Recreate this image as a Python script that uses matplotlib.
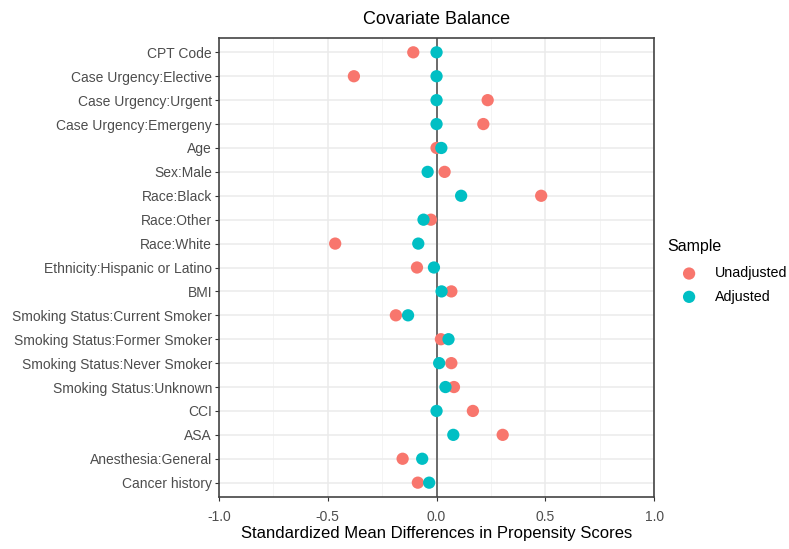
import numpy as np
import matplotlib.pyplot as plt

plt.rcParams['font.family'] = ['Liberation Sans', 'DejaVu Sans']

covariates = ['CPT Code', 'Case Urgency:Elective', 'Case Urgency:Urgent', 'Case Urgency:Emergeny',
              'Age', 'Sex:Male', 'Race:Black', 'Race:Other', 'Race:White',
              'Ethnicity:Hispanic or Latino', 'BMI', 'Smoking Status:Current Smoker',
              'Smoking Status:Former Smoker', 'Smoking Status:Never Smoker',
              'Smoking Status:Unknown', 'CCI', 'ASA', 'Anesthesia:General', 'Cancer history']
unadjusted = [-0.107, -0.38, 0.235, 0.215, 0.0, 0.037, 0.481, -0.026, -0.466,
              -0.09, 0.068, -0.187, 0.02, 0.068, 0.08, 0.167, 0.304, -0.156, -0.086]
adjusted = [0.0, 0.0, 0.0, 0.0, 0.022, -0.041, 0.113, -0.06, -0.084,
            -0.012, 0.023, -0.131, 0.055, 0.012, 0.041, 0.0, 0.077, -0.066, -0.034]
xticks = [-1.0, -0.5, 0.0, 0.5, 1.0]

red = '#F8766D'
teal = '#00BFC4'

fig = plt.figure(figsize=(7.89, 5.49), dpi=100)
ax = fig.add_axes([0.2776, 0.0947, 0.5514, 0.8361])

y = np.arange(len(covariates))[::-1]

ax.set_xlim(-1, 1)
ax.set_ylim(-0.6, len(covariates) - 1 + 0.6)

# grid like theme_bw
for v in [-0.75, -0.25, 0.25, 0.75]:
    ax.axvline(v, color='#F2F2F2', lw=0.6, zorder=0)
for v in xticks:
    ax.axvline(v, color='#EBEBEB', lw=1.1, zorder=0)
for v in y:
    ax.axhline(v, color='#EBEBEB', lw=1.1, zorder=0)

ax.axvline(0, color='#555555', lw=1.2, zorder=1)

ax.scatter(unadjusted, y, s=78, color=red, edgecolors='none', zorder=2, label='Unadjusted')
ax.scatter(adjusted, y, s=78, color=teal, edgecolors='none', zorder=3, label='Adjusted')

ax.set_yticks(y)
ax.set_yticklabels(covariates, fontsize=10, color='#4D4D4D')
ax.set_xticks(xticks)
ax.set_xticklabels(['-1.0', '-0.5', '0.0', '0.5', '1.0'], fontsize=10, color='#4D4D4D')
ax.tick_params(axis='y', length=3, width=0.8, color='#333333', pad=2)
ax.tick_params(axis='x', length=3, width=0.8, color='#333333', pad=6)

for s in ax.spines.values():
    s.set_color('#444444')
    s.set_linewidth(1.2)

ax.set_xlabel('Standardized Mean Differences in Propensity Scores', fontsize=12, labelpad=2)
ax.set_title('Covariate Balance', fontsize=13, pad=10)

leg = ax.legend(title='Sample', loc='upper left', bbox_to_anchor=(1.018, 0.575),
                frameon=False, fontsize=10.3, title_fontsize=11.5,
                handlelength=3.0, handletextpad=0.3, labelspacing=0.65,
                borderaxespad=0)
leg._legend_box.align = 'left'
leg._legend_box.sep = 9

fig.savefig('out.png', dpi=100)
